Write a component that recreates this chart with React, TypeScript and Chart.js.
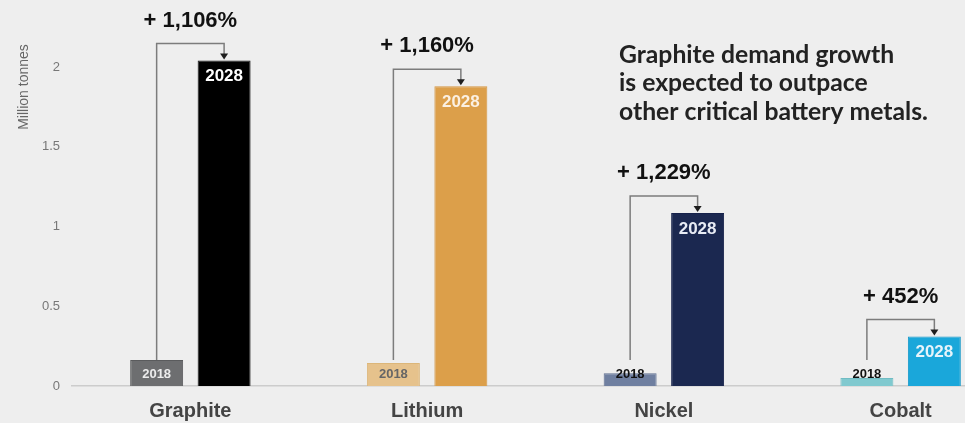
import React, { useEffect, useRef } from "react";
import { Chart, registerables } from "chart.js";

Chart.register(...registerables);

const categories = ["Graphite", "Lithium", "Nickel", "Cobalt"];
const seriesYears = ["2018", "2028"];
const values2018 = [0.163, 0.144, 0.08, 0.05];
const values2028 = [2.04, 1.88, 1.085, 0.31];
const growthLabels = ["+ 1,106%", "+ 1,160%", "+ 1,229%", "+ 452%"];
const yTicks = [0, 0.5, 1, 1.5, 2];
const yTitle = "Million tonnes";
const noteLines = [
  "Graphite demand growth",
  "is expected to outpace",
  "other critical battery metals.",
];

const colors2018 = ["#6d6e70", "#e6c28c", "#6f7fa0", "#80c9cf"];
const colors2028 = ["#000000", "#dc9f4a", "#1b2850", "#1aa7da"];
const border2018 = ["#5a5b5d", "#dcb679", "#5f6f90", "#70bcc3"];
const border2028 = ["#1a1a1a", "#d49540", "#16214a", "#1598c9"];
const label2018Colors = ["#ececec", "#666666", "#111111", "#111111"];
const label2028Colors = ["#ffffff", "#fbf0e2", "#e8ecf5", "#e6f4fb"];

const SANS = "Arial, 'Liberation Sans', sans-serif";

const annotationPlugin = {
  id: "annotations",
  afterDatasetsDraw(chart: any) {
    const ctx = chart.ctx;
    const yScale = chart.scales.y;
    const xScale = chart.scales.x;
    const m0 = chart.getDatasetMeta(0).data;
    const m1 = chart.getDatasetMeta(1).data;
    const base = yScale.getPixelForValue(0);
    ctx.save();
    for (let i = 0; i < categories.length; i++) {
      const b0 = m0[i];
      const b1 = m1[i];
      // 2018 label
      ctx.font = `bold 13px ${SANS}`;
      ctx.textAlign = "center";
      ctx.textBaseline = "middle";
      ctx.fillStyle = label2018Colors[i];
      ctx.fillText(seriesYears[0], b0.x, base - 12);
      // 2028 label
      ctx.font = `bold 17px ${SANS}`;
      ctx.fillStyle = label2028Colors[i];
      ctx.fillText(seriesYears[1], b1.x, b1.y + 16);
      // bracket
      const top = b1.y - 17;
      const bottom = base - 26;
      ctx.strokeStyle = "#7c7c7c";
      ctx.lineWidth = 1.5;
      ctx.beginPath();
      ctx.moveTo(b0.x, bottom);
      ctx.lineTo(b0.x, top);
      ctx.lineTo(b1.x, top);
      ctx.lineTo(b1.x, b1.y - 6);
      ctx.stroke();
      ctx.fillStyle = "#1e1e1e";
      ctx.beginPath();
      ctx.moveTo(b1.x - 4, b1.y - 7);
      ctx.lineTo(b1.x + 4, b1.y - 7);
      ctx.lineTo(b1.x, b1.y - 1);
      ctx.closePath();
      ctx.fill();
      // growth label
      const cx = xScale.getPixelForValue(i);
      ctx.font = `bold 22px ${SANS}`;
      ctx.fillStyle = "#111111";
      ctx.fillText(growthLabels[i], cx, top - 23);
    }
    // y title
    ctx.save();
    ctx.translate(24, 87);
    ctx.rotate(-Math.PI / 2);
    ctx.font = `14px ${SANS}`;
    ctx.fillStyle = "#666666";
    ctx.textAlign = "center";
    ctx.textBaseline = "middle";
    ctx.fillText(yTitle, 0, 0);
    ctx.restore();
    // note
    let size = 22;
    ctx.font = `bold ${size}px Lato, sans-serif`;
    const w = Math.max(...noteLines.map((l) => ctx.measureText(l).width));
    size = (size * 309) / w;
    ctx.font = `bold ${size}px Lato, sans-serif`;
    ctx.fillStyle = "#222222";
    ctx.textAlign = "left";
    ctx.textBaseline = "middle";
    noteLines.forEach((l, k) => ctx.fillText(l, 619, 55 + k * 28.5));
    ctx.restore();
  },
};

export default function App() {
  const ref = useRef<HTMLCanvasElement | null>(null);
  useEffect(() => {
    if (!ref.current) return;
    const chart = new Chart(ref.current, {
      type: "bar",
      data: {
        labels: categories,
        datasets: [
          {
            label: seriesYears[0],
            data: values2018,
            backgroundColor: colors2018,
            borderColor: border2018,
            borderWidth: 1,
            categoryPercentage: 0.57,
            barPercentage: 0.785,
          },
          {
            label: seriesYears[1],
            data: values2028,
            backgroundColor: colors2028,
            borderColor: border2028,
            borderWidth: 1,
            categoryPercentage: 0.57,
            barPercentage: 0.785,
          },
        ],
      },
      options: {
        responsive: false,
        maintainAspectRatio: false,
        animation: false,
        layout: { padding: 0 },
        plugins: {
          legend: { display: false },
          tooltip: { enabled: false },
          title: { display: false },
        },
        scales: {
          x: {
            grid: { display: false, drawTicks: false },
            border: { display: true, color: "#cccccc", width: 1.5 },
            afterFit: (scale: any) => {
              scale.height = 37;
              scale.paddingLeft = 0;
              scale.paddingRight = 0;
            },
            ticks: {
              font: { family: SANS, size: 20, weight: "bold" },
              color: "#444444",
              padding: 13,
              maxRotation: 0,
              autoSkip: false,
            },
          },
          y: {
            min: 0,
            max: 2.42,
            grid: { display: false, drawTicks: false },
            border: { display: false },
            afterBuildTicks: (scale: any) => {
              scale.ticks = yTicks.map((v) => ({ value: v }));
            },
            afterFit: (scale: any) => {
              scale.width = 72;
              scale.paddingTop = 0;
              scale.paddingBottom = 0;
            },
            ticks: {
              font: { family: SANS, size: 13 },
              color: "#777777",
              padding: 12,
              callback: (v: any) => String(v),
            },
          },
        },
      },
      plugins: [annotationPlugin],
    });
    return () => chart.destroy();
  }, []);
  return (
    <div
      style={{
        position: "fixed",
        left: 0,
        top: 0,
        width: 965,
        height: 423,
        overflow: "hidden",
        background: "#eeeeee",
      }}
    >
      <canvas ref={ref} width={1019} height={423} style={{ width: 1019, height: 423, display: "block" }} />
    </div>
  );
}
